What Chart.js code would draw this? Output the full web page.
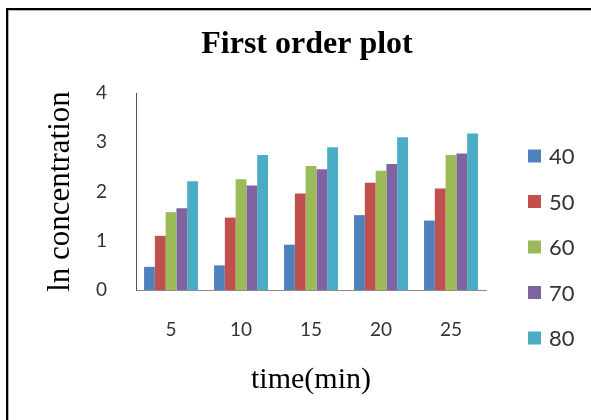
<!DOCTYPE html>
<html>
<head>
<meta charset="utf-8">
<script src="https://cdn.jsdelivr.net/npm/chart.js@4/dist/chart.umd.min.js"></script>
<style>
  html, body { margin: 0; padding: 0; background: #ffffff; }
  #wrap { position: relative; width: 591px; height: 420px; overflow: hidden; }
  #frame {
    position: absolute; left: 6px; top: 8px; right: -10px; bottom: -10px;
    border-top: 2px solid #000; border-left: 2px solid #000;
    box-shadow: inset 1px 1px 0 #b0b0b0;
    pointer-events: none;
  }
</style>
</head>
<body>
<div id="wrap">
  <canvas id="chart" width="591" height="420"></canvas>
  <div id="frame"></div>
</div>
<script>
// Reaction time (min) on the category axis
const times = ['5', '10', '15', '20', '25'];
// Series names (temperature)
const seriesNames = ['40', '50', '60', '70', '80'];
// ln concentration for each series
const s40 = [0.47, 0.50, 0.92, 1.52, 1.41];
const s50 = [1.10, 1.47, 1.96, 2.18, 2.06];
const s60 = [1.58, 2.25, 2.52, 2.42, 2.74];
const s70 = [1.66, 2.12, 2.45, 2.56, 2.77];
const s80 = [2.21, 2.74, 2.90, 3.10, 3.18];
// Value axis ticks
const yTicks = [0, 1, 2, 3, 4];

const seriesValues = [s40, s50, s60, s70, s80];
const seriesColors = ['#4F81BD', '#C0504D', '#9BBB59', '#8064A2', '#4BACC6'];

const sansFont = 'Lato, "Liberation Sans", sans-serif';
const serifFont = '"Liberation Serif", "Times New Roman", serif';

// Legend drawn to the right of the plot, one square + label per series
const sideLegend = {
  id: 'sideLegend',
  afterDraw(chart) {
    const { ctx, chartArea } = chart;
    ctx.save();
    ctx.font = '22px ' + sansFont;
    ctx.textBaseline = 'middle';
    ctx.textAlign = 'left';
    chart.data.datasets.forEach((ds, i) => {
      const cy = chartArea.top + 63 + i * 45.5;
      const bx = chartArea.right + 42;
      ctx.fillStyle = ds.backgroundColor;
      ctx.fillRect(bx, cy - 6.5, 13, 13);
      ctx.fillStyle = '#333333';
      ctx.fillText(ds.label, bx + 21, cy + 1);
    });
    ctx.restore();
  }
};

new Chart(document.getElementById('chart'), {
  type: 'bar',
  data: {
    labels: times,
    datasets: seriesNames.map((name, i) => ({
      label: name,
      data: seriesValues[i],
      backgroundColor: seriesColors[i],
      borderWidth: 0,
      categoryPercentage: 0.77,
      barPercentage: 1.0
    }))
  },
  options: {
    responsive: false,
    animation: false,
    layout: { padding: { left: 23, top: 0, right: 0, bottom: 19 } },
    plugins: {
      legend: { display: false },
      tooltip: { enabled: false },
      title: {
        display: true,
        text: 'First order plot',
        color: '#000000',
        font: { family: serifFont, size: 32, weight: 'bold', lineHeight: 1.2 },
        padding: { top: 26, bottom: 28.6 }
      }
    },
    scales: {
      x: {
        grid: { display: false, drawTicks: true, tickLength: 28.6 },
        border: { display: true, color: '#8c8c8c', width: 1 },
        ticks: {
          color: '#333333',
          padding: 0,
          font: { family: sansFont, size: 19 }
        },
        title: {
          display: true,
          text: 'time(min)',
          color: '#000000',
          font: { family: serifFont, size: 30, lineHeight: 1.2 },
          padding: { top: 20.6, bottom: 3 }
        }
      },
      y: {
        min: 0,
        max: 4,
        grid: { display: false, drawTicks: true, tickLength: 29 },
        border: { display: true, color: '#555555', width: 1 },
        afterBuildTicks(scale) {
          scale.ticks = yTicks.map(v => ({ value: v }));
        },
        ticks: {
          color: '#333333',
          padding: 0,
          font: { family: sansFont, size: 19 }
        },
        title: {
          display: true,
          text: 'ln concentration',
          color: '#000000',
          font: { family: serifFont, size: 31, lineHeight: 1.2 },
          padding: { top: 19.4, bottom: 16.4 }
        }
      },
      // empty right-hand axis that reserves room for the legend
      legendSpace: {
        type: 'linear',
        position: 'right',
        display: true,
        grid: { display: false, drawTicks: false },
        border: { display: false },
        ticks: { display: false },
        title: { display: false },
        afterFit(scale) { scale.width = 105; }
      }
    }
  },
  plugins: [sideLegend]
});
</script>
</body>
</html>
